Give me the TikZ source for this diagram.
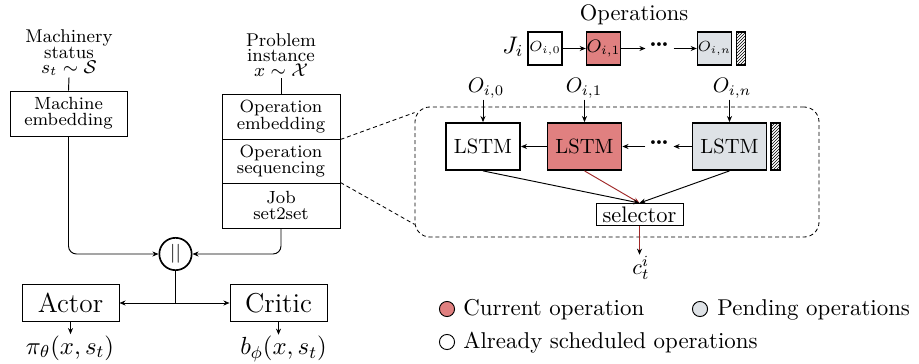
\RequirePackage{fix-cm}
\documentclass[tikz,border=0pt]{standalone}
\usetikzlibrary{arrows.meta,patterns}
\definecolor{curred}{RGB}{224,128,128}
\definecolor{pendgray}{RGB}{222,226,230}
\definecolor{linkred}{RGB}{160,40,40}
\newcommand{\fsz}[2]{\fontsize{#1}{#2}\selectfont}
\newcommand{\opdots}{${\cdot}\mkern-1.9mu{\cdot}\mkern-1.9mu{\cdot}$}
% one drawing unit = 1/2.1 pt; the drawing is enlarged 2.1 times on the canvas
\tikzset{
  wd/.style={minimum width=#1*0.47619pt},
  ht/.style={minimum height=#1*0.47619pt},
  box/.style={draw, line width=0.45pt, align=center, inner sep=0pt},
  opbox/.style={draw, line width=0.7pt, inner sep=0pt, wd=34, ht=33},
  lstmbox/.style={draw, line width=0.85pt, inner sep=0pt, wd=74, ht=47, font=\fsz{9.8}{11}},
  hatchbox/.style={draw, line width=0.55pt, pattern=north east lines, inner sep=0pt, wd=9},
  legdot/.style={draw, circle, line width=0.45pt, inner sep=0pt, minimum size=7.2pt},
  legtxt/.style={anchor=west, inner sep=0pt, font=\fsz{10.9}{12}},
  lbl/.style={align=center, inner sep=0.5pt},
  dotsnode/.style={inner xsep=1.2pt, inner ysep=0pt, font=\fsz{17}{17}},
  conn/.style={line width=0.45pt},
  arr/.style={conn, -{Stealth[length=2.9pt,width=2.4pt]}},
  dashln/.style={dash pattern=on 1.9pt off 1.4pt, line width=0.4pt},
}
\begin{document}
\begin{tikzpicture}
\useasboundingbox (0,0) rectangle (919pt,-364pt);
\begin{scope}[transform canvas={scale=2.1}, x=0.47619pt, y=-0.47619pt]

% ---------- encoder column: machine side ----------
\node[lbl, font=\fsz{8.8}{7.3}] (mstat) at (69,53) {Machinery\\status\\$s_t\sim\mathcal{S}$};
\node[box, wd=117, ht=45, font=\fsz{8.4}{7.6}] (memb) at (68.5,113.5) {Machine\\embedding};

% ---------- encoder column: problem side ----------
\node[lbl, font=\fsz{8.8}{7.3}] (pinst) at (281,55) {Problem\\instance\\$x\sim\mathcal{X}$};
\node[box, wd=118, ht=45, font=\fsz{8.4}{7.4}] (oemb) at (281,116.5) {Operation\\embedding};
\node[box, wd=118, ht=44, font=\fsz{8.4}{7.4}] (oseq) at (281,161) {Operation\\sequencing};
\node[box, wd=118, ht=45, font=\fsz{8.4}{7.4}] (jset) at (281,205.5) {Job\\set2set};

% ---------- concatenation and heads ----------
\node[draw, circle, line width=0.8pt, minimum size=15.4pt, inner sep=0pt, font=\fsz{9}{9}\sffamily] (cat) at (175.5,254) {||};
\node[box, wd=97, ht=37, font=\fsz{13}{13}] (actor) at (70.5,303) {Actor};
\node[box, wd=97, ht=37, font=\fsz{13}{13}] (critic) at (278.5,303) {Critic};
\node[lbl, font=\fsz{11.8}{12}] (pol) at (70,348) {$\pi_\theta(x,s_t)$};
\node[lbl, font=\fsz{11.8}{12}] (base) at (283.5,349) {$b_\phi(x,s_t)$};

\draw[conn] (mstat.south) -- (memb.north);
\draw[conn] (pinst.south) -- (oemb.north);
\draw[arr, rounded corners=3.8pt] (memb.south) |- (cat.west);
\draw[arr, rounded corners=3.8pt] (jset.south) |- (cat.east);
\draw[conn] (cat.south) -- (cat.south |- actor.east) coordinate (split);
\draw[arr] (split) -- (actor.east);
\draw[arr] (split) -- (critic.west);
\draw[arr] (actor.south) -- (pol.north -| actor.south);
\draw[arr] (critic.south) -- (critic.south |- base.north);

% ---------- job operations row ----------
\node[lbl, font=\fsz{10.7}{12}] (opstitle) at (634,15) {Operations};
\node[lbl, font=\fsz{11.4}{12}] (job) at (513,47) {$J_i$};
\node[opbox, font=\fsz{7}{7}] (o0) at (545,48.5) {$O_{i,0}$};
\node[opbox, fill=curred, font=\fsz{8.6}{9}] (o1) at (603.5,48.5) {$O_{i,1}$};
\node[dotsnode] (dotsa) at (659.5,45.5) {\opdots};
\node[opbox, fill=pendgray, font=\fsz{7}{7}] (on) at (714.5,48.5) {$O_{i,n}$};
\node[hatchbox, ht=33] (h1) at (741,48.5) {};
\draw[arr] (o0.east) -- (o1.west);
\draw[arr] (o1.east) -- (o1.east -| dotsa.west);
\draw[arr] (on.west -| dotsa.east) -- (on.west);

% ---------- operation sequencing detail ----------
\node[draw, dashln, rounded corners=7.1pt, wd=404, ht=130, inner sep=0pt] (detail) at (617,172) {};
\draw[dashln] (oemb.south east) -- ([yshift=-2.86pt]detail.north west);
\draw[dashln] (jset.north east) -- ([yshift=6.2pt]detail.south west);

\node[lbl, font=\fsz{10}{10}] (in0) at (486,88) {$O_{i,0}$};
\node[lbl, font=\fsz{10}{10}] (in1) at (584,88) {$O_{i,1}$};
\node[lbl, font=\fsz{10}{10}] (inn) at (732,88) {$O_{i,n}$};

\node[lstmbox] (l0) at (483,146.5) {LSTM};
\node[lstmbox, fill=curred] (l1) at (584.5,146.5) {LSTM};
\node[dotsnode] (dotsb) at (659.5,143.5) {\opdots};
\node[lstmbox, fill=pendgray] (ln) at (729.5,146.5) {LSTM};
\node[hatchbox, ht=47] (h2) at (775.5,146.5) {};

\draw[arr] (in0.south -| l0.north) -- (l0.north);
\draw[arr] (in1.south -| l1.north) -- (l1.north);
\draw[arr] (inn.south -| ln.north) -- (ln.north);
\draw[arr] (l1.west) -- (l0.east);
\draw[arr] (l1.east -| dotsb.west) -- (l1.east);
\draw[arr] (ln.west) -- (ln.west -| dotsb.east);

\node[box, wd=87, ht=22, font=\fsz{10.7}{11}] (sel) at (639.5,214.5) {selector};
\node[lbl, font=\fsz{10.5}{11}] (ct) at (641,268) {$c_t^i$};

\draw[conn, linkred, -{Stealth[length=2.9pt,width=2.4pt]}] (l1.south) -- (sel.north);
\draw[arr] (l0.south) -- (sel.north);
\draw[arr] (ln.south) -- (sel.north);
\draw[conn, linkred, -{Stealth[length=2.9pt,width=2.4pt,color=black]}] (sel.south) -- (sel.south |- ct.north);

% ---------- legend ----------
\node[legdot, fill=curred] (kcur) at (447,309) {};
\node[legtxt] (tcur) at (463,310) {Current operation};
\node[legdot, fill=pendgray] (kpend) at (700,309) {};
\node[legtxt] (tpend) at (717,310) {Pending operations};
\node[legdot] (kdone) at (447,342) {};
\node[legtxt] (tdone) at (463,343) {Already scheduled operations};
\end{scope}
\end{tikzpicture}
\end{document}
